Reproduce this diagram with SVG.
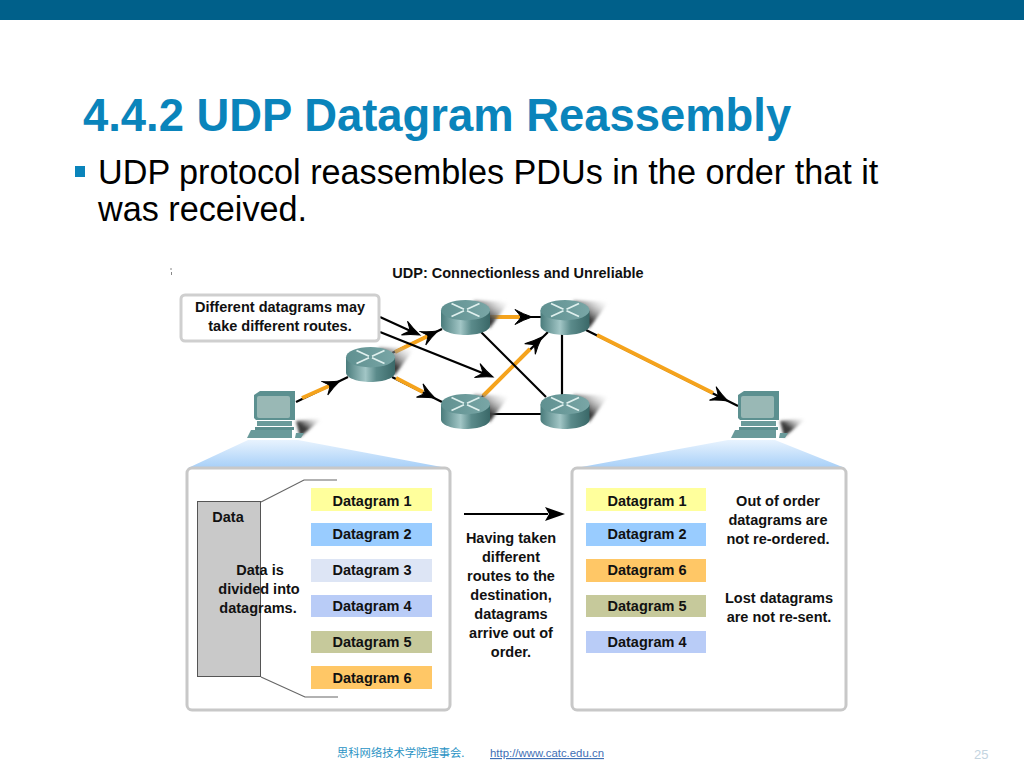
<svg xmlns="http://www.w3.org/2000/svg" width="1024" height="768" viewBox="0 0 1024 768">
<style>
text{font-family:"Liberation Sans",Arial,sans-serif}
.d{font-weight:bold;font-size:14.5px;fill:#111;text-anchor:middle}
.t{font-weight:bold;font-size:45.4px;fill:#0a84bb}
.s{font-size:34.2px;fill:#000}
.k{stroke:#000;stroke-width:2.2;fill:none}
.o{stroke:#f5a31c;stroke-width:4;fill:none}
.panel{fill:#fff;stroke:#c8c8c8;stroke-width:3}
</style>
<defs>
<filter id="blur" x="-30%" y="-30%" width="160%" height="160%"><feGaussianBlur stdDeviation="1.500"/></filter>
<linearGradient id="body" x1="0" x2="1" y1="0" y2="0"><stop offset="0" stop-color="#4a7c7c"/><stop offset=".4" stop-color="#a2c6c6"/><stop offset=".62" stop-color="#5b8b8b"/><stop offset="1" stop-color="#3a6868"/></linearGradient>
<linearGradient id="top" x1="0" x2="1" y1="0" y2="0"><stop offset="0" stop-color="#5f9090"/><stop offset="1" stop-color="#79a6a6"/></linearGradient>
<linearGradient id="shad" x1="0" x2="1" y1="1" y2="0"><stop offset=".4" stop-color="#3a3a3a"/><stop offset="1" stop-color="#fff" stop-opacity="0"/></linearGradient>
<linearGradient id="fan" x1="0" x2="0" y1="0" y2="1"><stop offset="0" stop-color="#e8f3fe"/><stop offset="1" stop-color="#a6cff8"/></linearGradient>
<path id="head" d="M0 0 Q-9 -3 -17 -7.500 Q-12.500 -2.500 -11 0 Q-12.500 2.500 -17 7.500 Q-9 3 0 0 Z" fill="#000" stroke="#000" stroke-width="1"/>
<g id="router">
<path d="M8 -17 L44 -16 L24 11 Z" fill="url(#shad)" filter="url(#blur)"/>
<path d="M-24.500 -7 V8 C-24.500 13.500 -13 17.500 0 17.500 C13 17.500 24.500 13.500 24.500 8 V-7 Z" fill="url(#body)"/>
<ellipse cx="0" cy="-7.300" rx="24.500" ry="10.200" fill="url(#top)"/>
<path d="M-14 -14 L-1.500 -8.300 M1.500 -6.700 L14 -1 M14 -14 L1.500 -8.300 M-1.500 -6.700 L-14 -1" stroke="#dff0ee" stroke-width="1.800" fill="none"/>
</g>
<g id="pc">
<path d="M42 30 L69 27 L46 46 Z" fill="url(#shad)" filter="url(#blur)"/>
<path d="M0 4 L6 0 H41 V29 H2 L0 27 Z" fill="#5c9090"/>
<rect x="3" y="5" width="33" height="22" rx="2" fill="#99b8b5"/>
<path d="M3 30 H38 V35 H3 Z" fill="#6a9a9a"/>
<path d="M1 36 H40 V39 H1 Z" fill="#5c8e8e"/>
<path d="M-3 39 H38 V47 H-7 Z" fill="#6a9a9a"/>
<path d="M42 42 H50 L47 47 H41 Z" fill="#6a9a9a"/>
</g>
</defs>
<rect width="1024" height="20" fill="#00608a"/>
<text class="t" x="83" y="131">4.4.2 UDP Datagram Reassembly</text>
<rect x="75" y="166" width="10" height="11" fill="#0a84bb"/>
<text class="s" x="98" y="184">UDP protocol reassembles PDUs in the order that it</text>
<text class="s" x="98" y="221">was received.</text>
<text x="518" y="278" class="d">UDP: Connectionless and Unreliable</text>
<path d="M171 268 V270 M171.500 272 V275" stroke="#888" stroke-width="1" fill="none"/>

<path d="M188 468 L248 440 H298 L447 468 Z" fill="url(#fan)"/>
<path d="M576 468 L728 440 H775 L845 468 Z" fill="url(#fan)"/>

<g id="connectors">
<path class="k" d="M296 402 L348 377"/><path class="o" d="M302 398 L329 386"/>
<path class="k" d="M392 353 L442 329"/><path class="o" d="M395 352 L428 336"/>
<path class="k" d="M392 377 L442 402"/><path class="o" d="M396 378 L423 392"/>
<path class="k" d="M489 317 L541 317"/><path class="o" d="M490 317 L520 317"/>
<path class="k" d="M481 398 L548 332"/><path class="o" d="M483 396 L530 349"/>
<path class="k" d="M481 332 L546 397"/>
<path class="k" d="M562 334 V396"/>
<path class="k" d="M489 414 H541"/>
<path class="k" d="M586 330 L738 406"/><path class="o" d="M597 335 L713 393"/>
<path class="k" d="M380 317 L415 333"/>
<path class="k" d="M380 332 L485 374"/>
<use href="#head" transform="translate(340 381) rotate(-25)"/>
<use href="#head" transform="translate(438 331) rotate(-25)"/>
<use href="#head" transform="translate(435 398) rotate(26)"/>
<use href="#head" transform="translate(532 317)"/>
<use href="#head" transform="translate(542 337) rotate(-45)"/>
<use href="#head" transform="translate(728 401) rotate(26.500)"/>
<use href="#head" transform="translate(420 335) rotate(24)"/>
<use href="#head" transform="translate(493 377) rotate(22)"/>
</g>

<g id="router0"><use href="#router" x="370.500" y="364.500"/></g>
<g id="router1"><use href="#router" x="465.500" y="317.500"/></g>
<g id="router2"><use href="#router" x="565" y="317.500"/></g>
<g id="router3"><use href="#router" x="465.500" y="411.500"/></g>
<g id="router4"><use href="#router" x="565" y="411.500"/></g>
<g id="pc1"><use href="#pc" x="254" y="391"/></g>
<g id="pc2"><use href="#pc" x="738" y="391"/></g>

<g id="callout">
<rect x="181" y="295" width="198" height="46" rx="4" fill="#fff" stroke="#cfcfcf" stroke-width="3"/>
<text class="d" x="280" y="312">Different datagrams may</text>
<text class="d" x="280" y="331">take different routes.</text>
</g>

<g id="left-panel">
<rect class="panel" x="187" y="468" width="263" height="242" rx="5"/>
<rect x="197.500" y="501.500" width="63" height="175" fill="#c9c9c9" stroke="#555" stroke-width="1"/>
<path d="M261 502 L304 480 H337 M261 677 L305 697 H338" fill="none" stroke="#666" stroke-width="1.200"/>
<text class="d" x="228" y="522">Data</text>
<text class="d" x="260" y="575">Data is</text>
<text class="d" x="259" y="594">divided into</text>
<text class="d" x="258" y="613">datagrams.</text>
<rect x="311" y="488" width="121" height="23" fill="#ffff9c"/><text class="d" x="372" y="506">Datagram 1</text>
<rect x="311" y="523" width="121" height="23" fill="#99ccff"/><text class="d" x="372" y="539">Datagram 2</text>
<rect x="311" y="559" width="121" height="23" fill="#dde5f5"/><text class="d" x="372" y="575">Datagram 3</text>
<rect x="311" y="595" width="121" height="22" fill="#b9ccf7"/><text class="d" x="372" y="611">Datagram 4</text>
<rect x="311" y="631" width="121" height="22" fill="#c6c99b"/><text class="d" x="372" y="647">Datagram 5</text>
<rect x="311" y="666" width="121" height="23" fill="#ffc766"/><text class="d" x="372" y="683">Datagram 6</text>
</g>

<g id="middle">
<path d="M464 514 H548" stroke="#000" stroke-width="1.800"/>
<path d="M565 514 L545 507 L549 514 L545 521 Z" fill="#000"/>
<text class="d" x="511" y="543">Having taken</text>
<text class="d" x="511" y="562">different</text>
<text class="d" x="511" y="581">routes to the</text>
<text class="d" x="511" y="600">destination,</text>
<text class="d" x="511" y="619">datagrams</text>
<text class="d" x="511" y="638">arrive out of</text>
<text class="d" x="511" y="657">order.</text>
</g>

<g id="right-panel">
<rect class="panel" x="572" y="468" width="274" height="242" rx="5"/>
<rect x="586" y="488" width="120" height="23" fill="#ffff9c"/><text class="d" x="647" y="506">Datagram 1</text>
<rect x="586" y="523" width="120" height="23" fill="#99ccff"/><text class="d" x="647" y="539">Datagram 2</text>
<rect x="586" y="559" width="120" height="23" fill="#ffc766"/><text class="d" x="647" y="575">Datagram 6</text>
<rect x="586" y="595" width="120" height="22" fill="#c6c99b"/><text class="d" x="647" y="611">Datagram 5</text>
<rect x="586" y="631" width="120" height="22" fill="#b9ccf7"/><text class="d" x="647" y="647">Datagram 4</text>
<text class="d" x="778" y="506">Out of order</text>
<text class="d" x="778" y="525">datagrams are</text>
<text class="d" x="778" y="544">not re-ordered.</text>
<text class="d" x="779" y="603">Lost datagrams</text>
<text class="d" x="779" y="622">are not re-sent.</text>
</g>

<text x="337" y="757" font-size="11.300" fill="#2a93c4" style="font-family:'Noto Sans CJK SC',sans-serif">思科网络技术学院理事会.</text>
<text x="490" y="757" font-size="11.400" fill="#3f6fb5" text-decoration="underline">http://www.catc.edu.cn</text>
<text x="974" y="759" font-size="13" fill="#c4d4df">25</text>
</svg>
